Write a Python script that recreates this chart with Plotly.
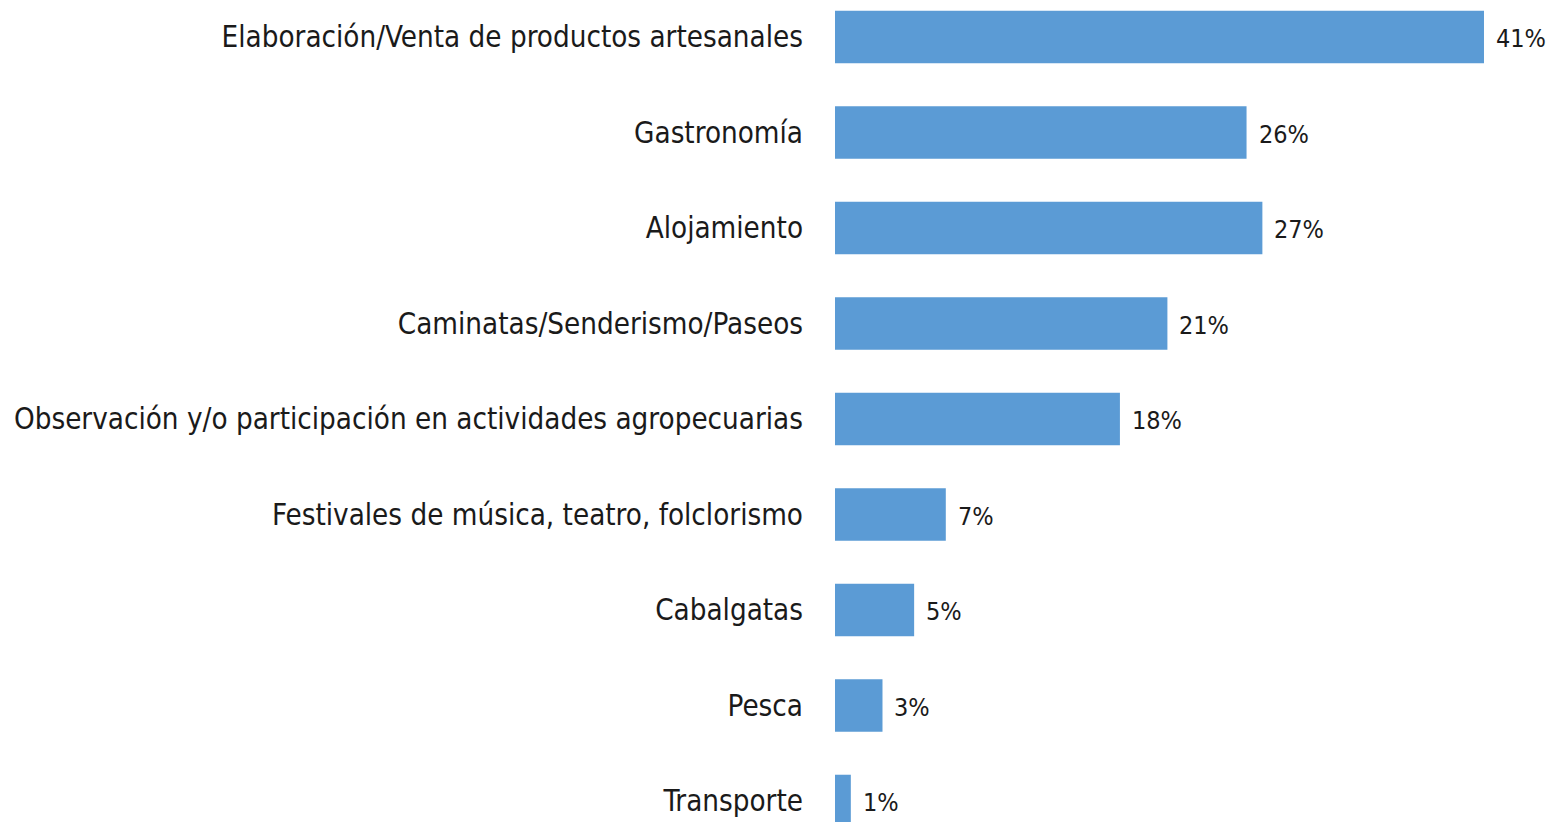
import plotly.graph_objects as go

categories = [
    "Elaboración/Venta de productos artesanales",
    "Gastronomía",
    "Alojamiento",
    "Caminatas/Senderismo/Paseos",
    "Observación y/o participación en actividades agropecuarias",
    "Festivales de música, teatro, folclorismo",
    "Cabalgatas",
    "Pesca",
    "Transporte",
]
values = [41, 26, 27, 21, 18, 7, 5, 3, 1]
value_labels = [f"{v}%" for v in values]

FONT = "DejaVu Sans Condensed, Liberation Sans Narrow, sans-serif"

fig = go.Figure()
fig.add_trace(go.Bar(
    x=values,
    y=categories,
    orientation="h",
    marker=dict(color="#5B9BD5", line=dict(width=0)),
    width=0.55,
    hoverinfo="skip",
))

for c, v, t in zip(categories, values, value_labels):
    fig.add_annotation(
        x=v, y=c, text=t, showarrow=False,
        xanchor="left", yanchor="middle", xshift=10, yshift=-2,
        font=dict(family=FONT, size=25, color="#1a1a1a"),
    )

fig.update_layout(
    width=1553, height=822,
    margin=dict(l=835, r=0, t=0, b=0, autoexpand=False),
    paper_bgcolor="white", plot_bgcolor="white",
    showlegend=False,
    xaxis=dict(range=[0, 45.36], visible=False, fixedrange=True, automargin=False),
    yaxis=dict(
        type="category",
        categoryorder="array", categoryarray=categories,
        range=[8.22, -0.387],
        automargin=False, fixedrange=True,
        showgrid=False, zeroline=False, showline=False,
        ticks="", ticklabelstandoff=31,
        tickfont=dict(family=FONT, size=29.3, color="#1a1a1a"),
    ),
)

fig.write_html(
    "out.html",
    config={"displayModeBar": False, "staticPlot": True},
    post_script="document.body.style.margin='0';document.body.style.padding='0';document.body.style.overflow='hidden';",
)
